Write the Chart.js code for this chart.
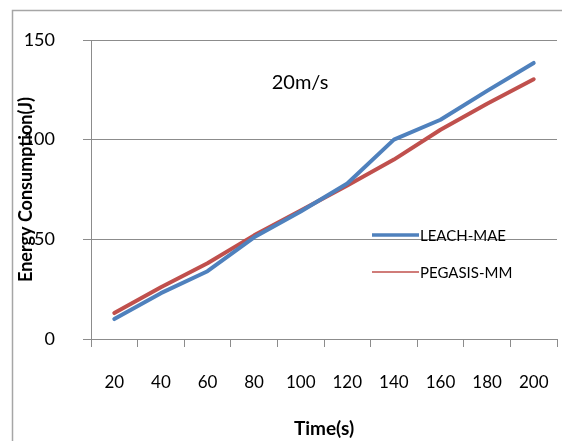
<!DOCTYPE html>
<html>
<head>
<meta charset="utf-8">
<script src="https://cdn.jsdelivr.net/npm/chart.js@4/dist/chart.umd.min.js"></script>
<style>
html,body{margin:0;padding:0;background:#fff;}
#wrap{width:562px;height:441px;position:relative;}
</style>
</head>
<body>
<div id="wrap"><canvas id="c" width="562" height="441"></canvas></div>
<script>
const categories = ['20','40','60','80','100','120','140','160','180','200'];
const leachMAE   = [10, 23, 34, 51, 64, 78, 100, 110, 124.5, 138.5];
const pegasisMM  = [13, 26, 38, 52, 64.5, 77, 90, 105, 118, 130.3];
const seriesNames = ['LEACH-MAE', 'PEGASIS-MM'];
const yTicks = [0, 50, 100, 150];
const chartNote = '20m/s';

const FONT = "Lato, 'Liberation Sans', sans-serif";
const GRID = '#8c8c8c';

const frame = {
  id: 'frame',
  beforeDraw(chart) {
    const ctx = chart.ctx;
    ctx.save();
    ctx.fillStyle = '#fff';
    ctx.fillRect(0, 0, chart.width, chart.height);
    ctx.strokeStyle = '#a6a6a6';
    ctx.lineWidth = 1.5;
    ctx.strokeRect(12.5, 10.5, 700, 600);
    ctx.restore();
  }
};

const noteAndLegend = {
  id: 'noteAndLegend',
  afterDatasetsDraw(chart) {
    const ctx = chart.ctx;
    ctx.save();
    ctx.fillStyle = '#000';
    ctx.font = "20px " + FONT;
    ctx.textAlign = 'center';
    ctx.textBaseline = 'middle';
    ctx.fillText(chartNote, 300, 83);
    const rows = [235, 272];
    const widths = [3.5, 1.5];
    chart.data.datasets.forEach((ds, i) => {
      const y = rows[i];
      ctx.strokeStyle = ds.borderColor;
      ctx.lineWidth = widths[i];
      ctx.beginPath();
      ctx.moveTo(372, y);
      ctx.lineTo(419, y);
      ctx.stroke();
      ctx.fillStyle = '#000';
      ctx.font = "15px " + FONT;
      ctx.textAlign = 'left';
      ctx.textBaseline = 'middle';
      ctx.fillText(ds.label, 420, y + 1);
    });
    ctx.restore();
  }
};

new Chart(document.getElementById('c'), {
  type: 'line',
  data: {
    labels: categories,
    datasets: [
      { label: seriesNames[0], data: leachMAE, borderColor: '#4F81BD', backgroundColor: '#4F81BD',
        borderWidth: 4, pointRadius: 0, tension: 0, borderCapStyle: 'round', borderJoinStyle: 'round' },
      { label: seriesNames[1], data: pegasisMM, borderColor: '#C0504D', backgroundColor: '#C0504D',
        borderWidth: 4, pointRadius: 0, tension: 0, borderCapStyle: 'round', borderJoinStyle: 'round' }
    ]
  },
  options: {
    responsive: false,
    animation: false,
    layout: { padding: { left: 0, right: 5, top: 40, bottom: 0 } },
    plugins: {
      legend: { display: false },
      title: { display: false },
      tooltip: { enabled: false }
    },
    scales: {
      x: {
        type: 'category',
        offset: true,
        grid: { offset: true, drawOnChartArea: false, drawTicks: true, tickLength: 8, color: GRID, lineWidth: 1 },
        border: { display: true, color: GRID, width: 1 },
        ticks: { color: '#000', font: { family: FONT, size: 17 }, padding: 25, maxRotation: 0, autoSkip: false },
        title: { display: true, text: 'Time(s)', color: '#000', font: { family: FONT, size: 19, weight: 'bold' }, padding: { top: 0, bottom: 1 } },
        afterFit(scale) { scale.height = 102; scale.paddingRight = 0; scale.paddingLeft = 0; }
      },
      y: {
        min: 0, max: 150,
        afterBuildTicks(scale) { scale.ticks = yTicks.map(v => ({ value: v })); },
        grid: { color: GRID, lineWidth: 1, tickLength: 8, drawTicks: true },
        border: { display: true, color: GRID, width: 1 },
        ticks: { color: '#000', font: { family: FONT, size: 18 }, padding: 28 },
        title: { display: true, text: 'Energy Consumption(J)', color: '#000', font: { family: FONT, size: 18, weight: 'bold' }, padding: { top: 15, bottom: 0 } },
        afterFit(scale) { scale.width = 91; scale.paddingTop = 0; scale.paddingBottom = 0; }
      }
    }
  },
  plugins: [frame, noteAndLegend]
});
</script>
</body>
</html>
